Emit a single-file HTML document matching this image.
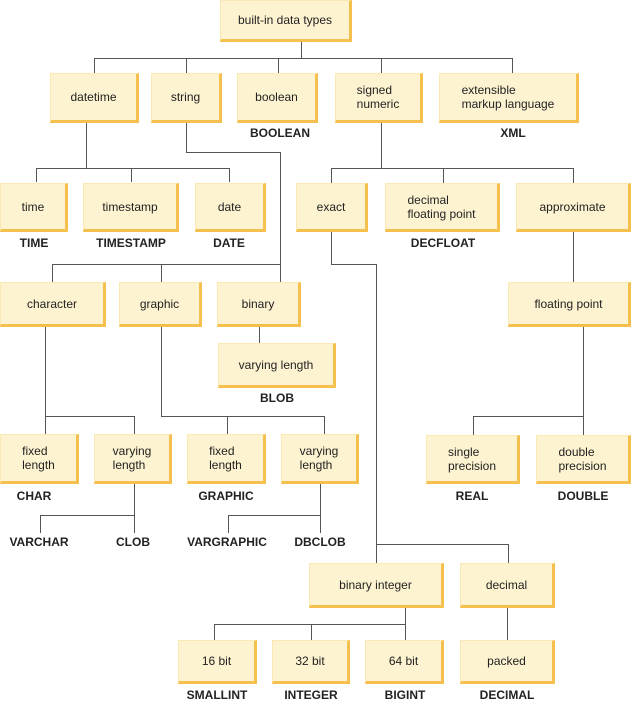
<!DOCTYPE html>
<html><head><meta charset="utf-8"><style>
body{margin:0;width:631px;height:704px;background:#fff;position:relative;overflow:hidden;font-family:"Liberation Sans",Arial,sans-serif;}
.b{position:absolute;box-sizing:border-box;background:#fdf3d0;border-top:1px solid #fbe9b4;border-left:1px solid #fbe9b4;border-right:3px solid #f6c04e;border-bottom:3px solid #f6c04e;display:flex;align-items:center;justify-content:center;font-size:12px;color:#222;line-height:14px;text-align:left;}
.l{position:absolute;font-size:12px;font-weight:bold;color:#222;transform:translateX(-50%);white-space:nowrap;}
svg{position:absolute;left:0;top:0;}
</style></head><body>
<svg width="631" height="704"><g stroke="#555" stroke-width="1" fill="none" shape-rendering="crispEdges">
<path d="M301.5 42V58.5M94.5 73V58.5H512.5V73M186.5 58V73M278.5 58V73M381.5 58V73"/>
<path d="M86.5 122V168.5M36.5 182V168.5H229.5V182M131.5 168V182"/>
<path d="M186.5 122V152.5H280.5V282M52.5 282V264.5H280.5M161.5 264V282"/>
<path d="M381.5 122V168.5M331.5 183V168.5H573.5V183M443.5 168V183"/>
<path d="M331.5 232V264.5H376.5V563M376.5 544.5H508.5V563"/>
<path d="M573.5 232V282M583.5 326V416.5H473.5V435M583.5 416V435"/>
<path d="M259.5 326V343"/>
<path d="M45.5 326V416.5H134.5V434M45.5 416V434"/>
<path d="M161.5 326V416.5H324.5V434M227.5 416V434"/>
<path d="M134.5 484V515.5H40.5V533M134.5 515V533"/>
<path d="M320.5 484V515.5H228.5V533M320.5 515V533"/>
<path d="M405.5 607V624.5H214.5V640M311.5 624V640M405.5 624V640"/>
<path d="M507.5 607V640"/>
</g></svg>
<div class="b" style="left:220px;top:0;width:132px;height:42px">built-in data types</div>
<div class="b" style="left:50px;top:73px;width:89px;height:50px">datetime</div>
<div class="b" style="left:151px;top:73px;width:71px;height:50px">string</div>
<div class="b" style="left:237px;top:73px;width:81px;height:50px">boolean</div>
<div class="b" style="left:335px;top:73px;width:88px;height:50px">signed<br>numeric</div>
<div class="b" style="left:439px;top:73px;width:140px;height:50px">extensible<br>markup language</div>
<div class="l" style="left:280px;top:126px">BOOLEAN</div>
<div class="l" style="left:513px;top:126px">XML</div>
<div class="b" style="left:0;top:183px;width:68px;height:49px">time</div>
<div class="b" style="left:83px;top:183px;width:96px;height:49px">timestamp</div>
<div class="b" style="left:195px;top:183px;width:71px;height:49px">date</div>
<div class="l" style="left:34px;top:236px">TIME</div>
<div class="l" style="left:131px;top:236px">TIMESTAMP</div>
<div class="l" style="left:229px;top:236px">DATE</div>
<div class="b" style="left:296px;top:183px;width:72px;height:49px">exact</div>
<div class="b" style="left:385px;top:183px;width:115px;height:49px">decimal<br>floating point</div>
<div class="b" style="left:516px;top:183px;width:115px;height:49px">approximate</div>
<div class="l" style="left:443px;top:236px">DECFLOAT</div>
<div class="b" style="left:0;top:282px;width:106px;height:45px">character</div>
<div class="b" style="left:119px;top:282px;width:83px;height:45px">graphic</div>
<div class="b" style="left:217px;top:282px;width:84px;height:45px">binary</div>
<div class="b" style="left:508px;top:282px;width:123px;height:45px">floating point</div>
<div class="b" style="left:218px;top:343px;width:118px;height:45px">varying length</div>
<div class="l" style="left:277px;top:391px">BLOB</div>
<div class="b" style="left:0;top:434px;width:79px;height:50px">fixed<br>length</div>
<div class="b" style="left:94px;top:434px;width:78px;height:50px">varying<br>length</div>
<div class="b" style="left:187px;top:434px;width:79px;height:50px">fixed<br>length</div>
<div class="b" style="left:281px;top:434px;width:78px;height:50px">varying<br>length</div>
<div class="b" style="left:426px;top:435px;width:94px;height:49px">single<br>precision</div>
<div class="b" style="left:536px;top:435px;width:95px;height:49px">double<br>precision</div>
<div class="l" style="left:34px;top:489px">CHAR</div>
<div class="l" style="left:226px;top:489px">GRAPHIC</div>
<div class="l" style="left:472px;top:489px">REAL</div>
<div class="l" style="left:583px;top:489px">DOUBLE</div>
<div class="l" style="left:39px;top:535px">VARCHAR</div>
<div class="l" style="left:133px;top:535px">CLOB</div>
<div class="l" style="left:227px;top:535px">VARGRAPHIC</div>
<div class="l" style="left:320px;top:535px">DBCLOB</div>
<div class="b" style="left:309px;top:563px;width:135px;height:45px">binary integer</div>
<div class="b" style="left:460px;top:563px;width:95px;height:45px">decimal</div>
<div class="b" style="left:178px;top:640px;width:79px;height:44px">16 bit</div>
<div class="b" style="left:272px;top:640px;width:78px;height:44px">32 bit</div>
<div class="b" style="left:365px;top:640px;width:79px;height:44px">64 bit</div>
<div class="b" style="left:460px;top:640px;width:95px;height:44px">packed</div>
<div class="l" style="left:217px;top:688px">SMALLINT</div>
<div class="l" style="left:311px;top:688px">INTEGER</div>
<div class="l" style="left:405px;top:688px">BIGINT</div>
<div class="l" style="left:507px;top:688px">DECIMAL</div>
</body></html>
